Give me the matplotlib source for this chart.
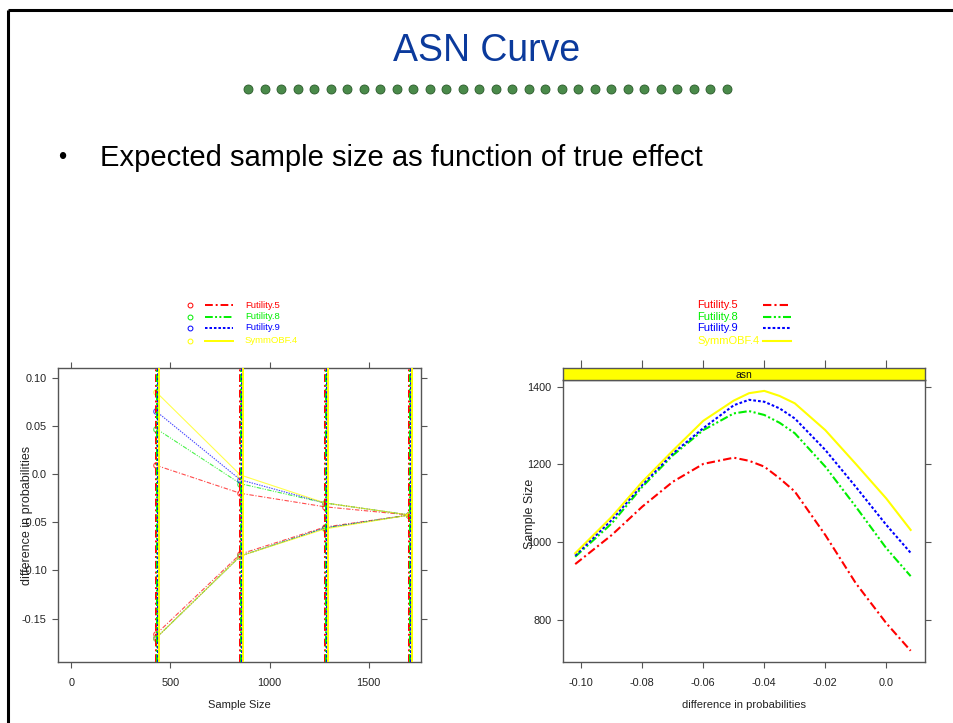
import matplotlib
matplotlib.use("Agg")
import matplotlib.pyplot as plt
from matplotlib import font_manager

# fonts: slide text in Arial-like, lattice plots in a narrow face if there is one
names = {f.name for f in font_manager.fontManager.ttflist}
NARROW = "Liberation Sans Narrow" if "Liberation Sans Narrow" in names else "Liberation Sans"
plt.rcParams["font.family"] = ["Liberation Sans", "DejaVu Sans"]

# ---- data -------------------------------------------------------------
designs = ["Futility.5", "Futility.8", "Futility.9", "SymmOBF.4"]
colors = ["#ff0000", "#00ee00", "#0000ff", "#ffff00"]
styles = [(0, (4, 1.5, 1, 1.5)), (0, (4, 1.2, 1, 1.2, 1, 1.2)), (0, (1.3, 1.0)), "-"]

# boundary plot (left)
n_analysis = [428, 853, 1280, 1706]
upper_bnd = {
    "Futility.5": [0.009, -0.020, -0.034, -0.0425],
    "Futility.8": [0.047, -0.010, -0.030, -0.0425],
    "Futility.9": [0.065, -0.006, -0.030, -0.0425],
    "SymmOBF.4": [0.085, -0.001, -0.030, -0.0425],
}
lower_bnd = {
    "Futility.5": [-0.166, -0.083, -0.055, -0.0425],
    "Futility.8": [-0.170, -0.085, -0.056, -0.0425],
    "Futility.9": [-0.170, -0.085, -0.056, -0.0425],
    "SymmOBF.4": [-0.170, -0.085, -0.057, -0.0425],
}

# ASN curves (right)
theta = [-0.102, -0.09, -0.08, -0.07, -0.06, -0.05, -0.045, -0.04, -0.035,
         -0.03, -0.02, -0.01, 0.0, 0.008]
asn = {
    "Futility.5": [943, 1018, 1091, 1155, 1201, 1217, 1209, 1194, 1164, 1130, 1018, 894, 791, 720],
    "Futility.8": [962, 1048, 1142, 1223, 1288, 1331, 1337, 1327, 1307, 1280, 1194, 1091, 984, 912],
    "Futility.9": [965, 1057, 1147, 1228, 1293, 1352, 1366, 1361, 1344, 1318, 1237, 1142, 1044, 972],
    "SymmOBF.4": [971, 1065, 1155, 1235, 1312, 1364, 1383, 1389, 1376, 1357, 1288, 1201, 1112, 1031],
}

W, H = 954, 723
fig = plt.figure(figsize=(W / 100, H / 100), dpi=100)

# overlay in pixel coords for slide decoration
deco = fig.add_axes([0, 0, 1, 1])
deco.set_xlim(0, W)
deco.set_ylim(H, 0)
deco.axis("off")
deco.plot([8, W], [10, 10], color="black", lw=2.2, solid_capstyle="butt")
deco.plot([8, 8], [10, H], color="black", lw=2.2, solid_capstyle="butt")
dot_x = [248 + i * (727 - 248) / 29 for i in range(30)]
deco.scatter(dot_x, [89] * 30, s=42, color="#4a8a4a", edgecolor="#2a5a2a", lw=0.6)
deco.text(487, 51, "ASN Curve", ha="center", va="center", fontsize=27, color="#0b3a9c")
deco.text(62, 158, "•", ha="center", va="center", fontsize=17, color="black")
deco.text(100, 158, "Expected sample size as function of true effect",
          ha="left", va="center", fontsize=21, color="black")

tick_kw = dict(direction="out", length=4.5, width=0.8, colors="#555555",
               labelcolor="#222222", labelsize=7.8)

# ---- left: boundaries -------------------------------------------------
axl = fig.add_axes([58 / W, 1 - 662 / H, 363 / W, 294 / H])
for i, (d, c, ls) in enumerate(zip(designs, colors, styles)):
    for n in n_analysis:
        axl.axvline(n + 5 * i, color=c, ls=ls, lw=1.4, zorder=3)
    axl.plot(n_analysis, upper_bnd[d], color=c, ls=ls, lw=0.8, alpha=0.7,
             marker="o", mfc="none", ms=4, mew=0.8, zorder=2)
    axl.plot(n_analysis, lower_bnd[d], color=c, ls=ls, lw=0.8, alpha=0.7,
             marker="o", mfc="none", ms=4, mew=0.8, zorder=2)
axl.set_xlim(-68, 1765)
axl.set_ylim(-0.195, 0.110)
axl.set_xticks([0, 500, 1000, 1500])
axl.set_xticklabels(["0", "500", "1000", "1500"])
axl.set_yticks([0.10, 0.05, 0.0, -0.05, -0.10, -0.15])
axl.set_yticklabels(["0.10", "0.05", "0.0", "-0.05", "-0.10", "-0.15"])
axl.tick_params(top=True, right=True, labeltop=False, labelright=False, **tick_kw)
axl.tick_params(axis="x", pad=7)
for lab in axl.get_xticklabels() + axl.get_yticklabels():
    lab.set_family(NARROW)
for s in axl.spines.values():
    s.set_color("#555555")
    s.set_linewidth(1.0)
axl.set_xlabel("Sample Size", family=NARROW, fontsize=8, color="#222222")
axl.set_ylabel("difference in probabilities", family=NARROW, fontsize=9, color="#222222")
axl.xaxis.set_label_coords(0.5, -0.146)
axl.yaxis.set_label_coords(-0.085, 0.5)
axl.xaxis.label.set_va("center")
axl.yaxis.label.set_va("center")

# left legend
rows = [305, 316.5, 328, 340.5]
for d, c, ls, y in zip(designs, colors, styles, rows):
    deco.plot([190], [y], marker="o", mfc="none", mec=c, ms=3.5, mew=0.7)
    deco.plot([205, 233], [y, y], color=c, ls=ls, lw=1.4)
    deco.text(245, y, d, color=c, fontsize=6.8, family=NARROW, va="center", ha="left")

# ---- right: ASN -------------------------------------------------------
axr = fig.add_axes([562.7 / W, 1 - 662 / H, 362.6 / W, 282 / H])
for d, c, ls in zip(designs, colors, styles):
    axr.plot(theta, asn[d], color=c, ls=ls, lw=1.5)
axr.set_xlim(-0.1061, 0.0128)
axr.set_ylim(691, 1417)
axr.set_xticks([-0.10, -0.08, -0.06, -0.04, -0.02, 0.0])
axr.set_xticklabels(["-0.10", "-0.08", "-0.06", "-0.04", "-0.02", "0.0"])
axr.set_yticks([800, 1000, 1200, 1400])
axr.set_yticklabels(["800", "1000", "1200", "1400"])
axr.tick_params(top=False, right=True, labelright=False, **tick_kw)
axr.tick_params(axis="x", pad=7)
for lab in axr.get_xticklabels() + axr.get_yticklabels():
    lab.set_family(NARROW)
for s in axr.spines.values():
    s.set_color("#555555")
    s.set_linewidth(1.0)
axr.set_xlabel("difference in probabilities", family=NARROW, fontsize=8, color="#222222")
axr.set_ylabel("Sample Size", family=NARROW, fontsize=9, color="#222222")
axr.xaxis.set_label_coords(0.5, -0.152)
axr.yaxis.set_label_coords(-0.09, 0.525)
axr.xaxis.label.set_va("center")
axr.yaxis.label.set_va("center")

# strip
strip = fig.add_axes([562.7 / W, 1 - 380 / H, 362.6 / W, 12.3 / H])
strip.set_facecolor("#ffff00")
strip.set_xlim(axr.get_xlim())
strip.set_xticks(axr.get_xticks())
strip.set_yticks([])
strip.tick_params(axis="x", top=True, bottom=False, labelbottom=False,
                  labeltop=False, direction="out", length=6, width=0.8, colors="#555555")
for s in strip.spines.values():
    s.set_color("#555555")
    s.set_linewidth(1.0)
strip.text(0.5, 0.42, "asn", transform=strip.transAxes, ha="center", va="center",
           fontsize=7.5, family=NARROW, color="#111111")

# right legend
for d, c, ls, y in zip(designs, colors, styles, rows):
    deco.text(697, y, d, color=c, fontsize=8, family=NARROW, va="center", ha="left")
    deco.plot([763, 791], [y, y], color=c, ls=ls, lw=1.5)

fig.savefig("out.png", dpi=100)
